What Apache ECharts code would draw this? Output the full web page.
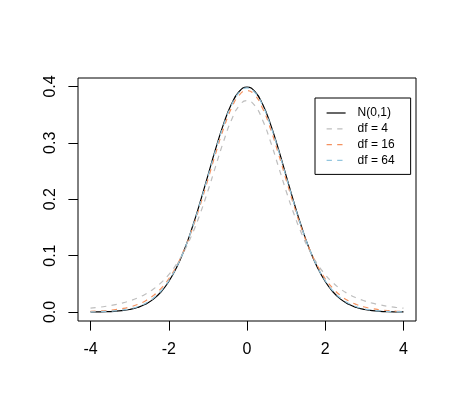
<!DOCTYPE html>
<html>
<head>
<meta charset="utf-8">
<script src="https://cdn.jsdelivr.net/npm/echarts@6/dist/echarts.min.js"></script>
<style>
html,body{margin:0;padding:0;background:#fff;}
#c{width:456px;height:419px;}
</style>
</head>
<body>
<div id="c"></div>
<script>
// x grid of the density curves
const xs = [-4,-3.8,-3.6,-3.4,-3.2,-3,-2.8,-2.6,-2.4,-2.2,-2,-1.8,-1.6,-1.4,-1.2,-1,-0.8,-0.6,-0.4,-0.2,0,0.2,0.4,0.6,0.8,1,1.2,1.4,1.6,1.8,2,2.2,2.4,2.6,2.8,3,3.2,3.4,3.6,3.8,4];
// N(0,1)
const normal = [0.00013,0.00029,0.00061,0.00123,0.00238,0.00443,0.00792,0.01358,0.02239,0.03547,0.05399,0.07895,0.11092,0.14973,0.19419,0.24197,0.28969,0.33322,0.36827,0.39104,0.39894,0.39104,0.36827,0.33322,0.28969,0.24197,0.19419,0.14973,0.11092,0.07895,0.05399,0.03547,0.02239,0.01358,0.00792,0.00443,0.00238,0.00123,0.00061,0.00029,0.00013];
// t, df = 4
const df4 = [0.00671,0.00822,0.01013,0.01256,0.01568,0.01969,0.02488,0.03160,0.04032,0.05165,0.06629,0.08508,0.10887,0.13838,0.17385,0.21466,0.25875,0.30232,0.33998,0.36579,0.375,0.36579,0.33998,0.30232,0.25875,0.21466,0.17385,0.13838,0.10887,0.08508,0.06629,0.05165,0.04032,0.03160,0.02488,0.01969,0.01568,0.01256,0.01013,0.00822,0.00671];
// t, df = 16
const df16 = [0.00108,0.00166,0.00253,0.00386,0.00586,0.00884,0.01324,0.01964,0.02878,0.04154,0.05894,0.08192,0.11123,0.14707,0.18880,0.23460,0.28141,0.32508,0.36091,0.38451,0.39276,0.38451,0.36091,0.32508,0.28141,0.23460,0.18880,0.14707,0.11123,0.08192,0.05894,0.04154,0.02878,0.01964,0.01324,0.00884,0.00586,0.00386,0.00253,0.00166,0.00108];
// t, df = 64
const df64 = [0.00028,0.00053,0.00099,0.00180,0.00319,0.00552,0.00929,0.01520,0.02415,0.03717,0.05540,0.07983,0.11108,0.14909,0.19282,0.24009,0.28759,0.33117,0.36642,0.38940,0.39739,0.38940,0.36642,0.33117,0.28759,0.24009,0.19282,0.14909,0.11108,0.07983,0.05540,0.03717,0.02415,0.01520,0.00929,0.00552,0.00319,0.00180,0.00099,0.00053,0.00028];
const seriesNames = ['N(0,1)','df = 4','df = 16','df = 64'];
const xTicks = [-4,-2,0,2,4];
const yTicks = [0,0.1,0.2,0.3,0.4];

const FONT = '"Liberation Sans", Arial, Helvetica, sans-serif';
const pairs = ys => xs.map((x,i)=>[x, ys[i]]);
const dash = [5.3,5.3];

const chart = echarts.init(document.getElementById('c'), null, {renderer:'canvas'});
chart.setOption({
  animation:false,
  backgroundColor:'#ffffff',
  grid:{left:78,right:40,top:78,bottom:98,show:true,borderColor:'#000',borderWidth:1,backgroundColor:'transparent'},
  xAxis:{
    type:'value', min:-4.32, max:4.32,
    axisLine:{show:false,onZero:false},
    splitLine:{show:false},
    axisTick:{show:true,inside:false,length:9.6,lineStyle:{color:'#000',width:1},customValues:xTicks},
    axisLabel:{show:true,margin:21,color:'#000',fontSize:16,fontFamily:FONT,customValues:xTicks,formatter:v=>String(v)}
  },
  yAxis:{
    type:'value', min:-0.016, max:0.415,
    axisLine:{show:false,onZero:false},
    splitLine:{show:false},
    axisTick:{show:true,inside:false,length:9.6,lineStyle:{color:'#000',width:1},customValues:yTicks},
    axisLabel:{show:true,rotate:90,margin:19,color:'#000',fontSize:16,fontFamily:FONT,customValues:yTicks,formatter:v=>v.toFixed(1)}
  },
  legend:{
    orient:'vertical', left:315, top:98,
    data:seriesNames,
    backgroundColor:'#fff', borderColor:'#000', borderWidth:1, borderRadius:0,
    padding:[9,16,8,11],
    itemWidth:19, itemHeight:12, itemGap:3.8,
    itemStyle:{color:'rgba(0,0,0,0)',borderColor:'rgba(0,0,0,0)',borderWidth:0,opacity:0},
    lineStyle:{width:1.2},
    textStyle:{color:'#000',fontSize:12,fontFamily:FONT,padding:[0,0,0,7]},
    selectedMode:false
  },
  series:[
    {name:seriesNames[0],type:'line',data:pairs(normal),symbol:'none',smooth:true,lineStyle:{color:'#000',width:1.2,type:'solid'},itemStyle:{color:'#000'},z:2},
    {name:seriesNames[1],type:'line',data:pairs(df4),symbol:'none',smooth:true,lineStyle:{color:'#BEBEBE',width:1.2,type:dash},itemStyle:{color:'#BEBEBE'},z:3},
    {name:seriesNames[2],type:'line',data:pairs(df16),symbol:'none',smooth:true,lineStyle:{color:'#F4915F',width:1.2,type:dash},itemStyle:{color:'#F4915F'},z:4},
    {name:seriesNames[3],type:'line',data:pairs(df64),symbol:'none',smooth:true,lineStyle:{color:'#92C5DE',width:1.2,type:dash},itemStyle:{color:'#92C5DE'},z:5}
  ]
});
</script>
</body>
</html>
